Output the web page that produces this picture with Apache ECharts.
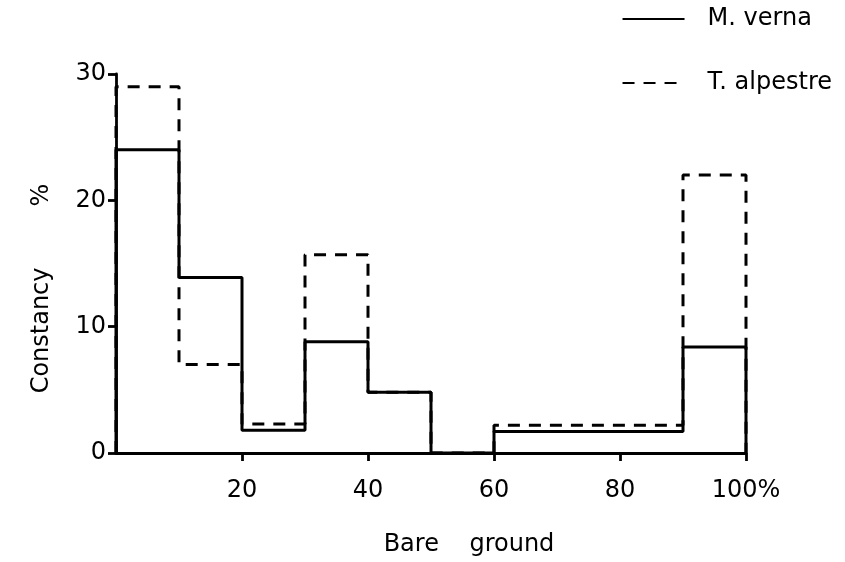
<!DOCTYPE html>
<html lang="en">
<head>
    <meta charset="UTF-8">
    <title>Constancy vs bare ground</title>
    <script src="https://cdn.jsdelivr.net/npm/echarts@6/dist/echarts.min.js"></script>
</head>
<body style="margin:0;background:#fff">
<div id="main" style="width:845px;height:562px"></div>
<script type="text/javascript">
    // bare ground classes (% cover), bin edges every 10
    var binEdges = [0, 10, 20, 30, 40, 50, 60, 70, 80, 90, 100];
    // constancy % per class
    var mVerna = [24, 13.9, 1.8, 8.8, 4.8, 0, 1.7, 1.7, 1.7, 8.4];
    var tAlpestre = [29, 7, 2.3, 15.7, 4.8, 0, 2.2, 2.2, 2.2, 22];
    var xTicks = [20, 40, 60, 80, 100];

    // turn bins into step points for a line series
    function toSteps(vals) {
        var pts = [[binEdges[0], 0]];
        for (var i = 0; i < vals.length; i++) {
            pts.push([binEdges[i], vals[i]]);
        }
        pts.push([binEdges[binEdges.length - 1], vals[vals.length - 1]]);
        pts.push([binEdges[binEdges.length - 1], 0]);
        return pts;
    }

    var font = 'DejaVu Sans';
    var fs = 24;
    var chart = echarts.init(document.getElementById('main'));
    var option = {
        animation: false,
        backgroundColor: '#fff',
        grid: {left: 116, right: 99, top: 74, bottom: 108},
        legend: {
            orient: 'vertical',
            right: 8,
            top: 2,
            itemWidth: 62,
            itemHeight: 14,
            itemGap: 40,
            data: ['M. verna', 'T. alpestre'],
            itemStyle: {color: 'rgba(0,0,0,0)', borderWidth: 0},
            textStyle: {fontFamily: font, fontSize: fs, color: '#000', padding: [0, 0, 0, 18]}
        },
        xAxis: {
            type: 'value',
            min: 0, max: 100, interval: 20,
            name: 'Bare    ground',
            nameLocation: 'middle',
            nameGap: 80,
            nameTextStyle: {fontFamily: font, fontSize: fs, color: '#000', padding: [0, 0, 0, 76]},
            axisLine: {lineStyle: {color: '#000', width: 2.8}},
            axisTick: {length: 8, customValues: xTicks, lineStyle: {color: '#000', width: 2.8}},
            axisLabel: {
                fontFamily: font, fontSize: fs, color: '#000', margin: 26,
                customValues: xTicks,
                formatter: function (v) { return v === 100 ? '100%' : v; }
            },
            splitLine: {show: false}
        },
        yAxis: {
            type: 'value',
            min: 0, max: 30, interval: 10,
            name: 'Constancy        %',
            nameLocation: 'middle',
            nameGap: 62,
            nameTextStyle: {fontFamily: font, fontSize: fs, color: '#000', padding: [0, 50, 0, 0]},
            axisLine: {show: true, lineStyle: {color: '#000', width: 2.8}},
            axisTick: {show: true, length: 8, lineStyle: {color: '#000', width: 2.8}},
            axisLabel: {fontFamily: font, fontSize: fs, color: '#000', margin: 10},
            splitLine: {show: false}
        },
        series: [
            {
                name: 'T. alpestre',
                type: 'line',
                step: 'end',
                symbol: 'none',
                z: 2,
                data: toSteps(tAlpestre),
                lineStyle: {color: '#000', width: 3, type: [12, 9]},
                itemStyle: {color: '#000'}
            },
            {
                name: 'M. verna',
                type: 'line',
                step: 'end',
                symbol: 'none',
                z: 3,
                data: toSteps(mVerna),
                lineStyle: {color: '#000', width: 3, type: 'solid'},
                itemStyle: {color: '#000'}
            }
        ]
    };
    option && chart.setOption(option);
</script>
</body>
</html>
